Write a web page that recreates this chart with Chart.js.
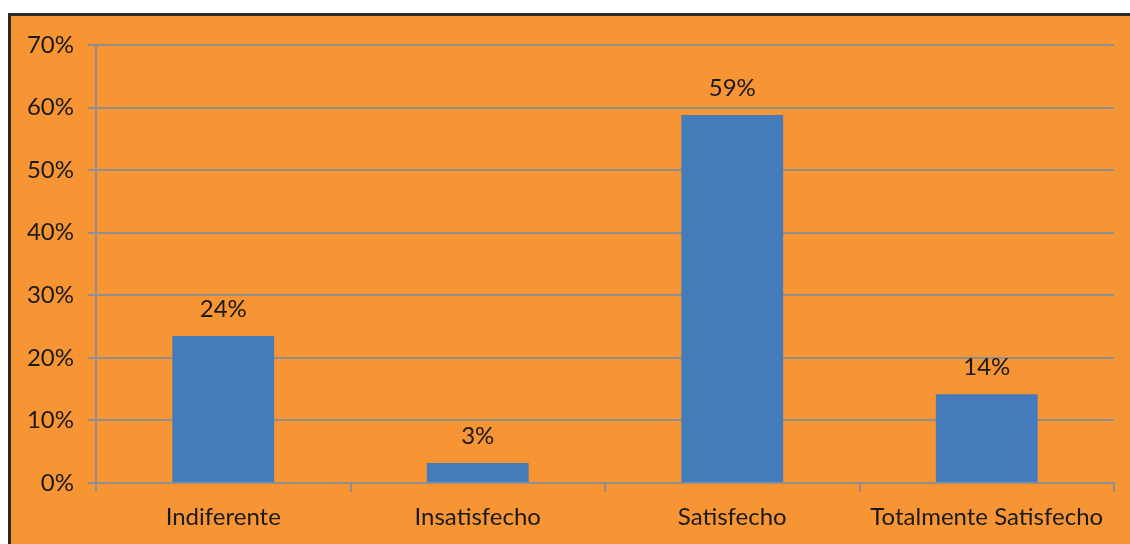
<!DOCTYPE html>
<html>
<head>
<meta charset="utf-8">
<script src="https://cdn.jsdelivr.net/npm/chart.js@4/dist/chart.umd.min.js"></script>
<style>
  html, body { margin: 0; padding: 0; background: #fff; }
  #frame {
    position: absolute; left: 8px; top: 13px; width: 1122px; height: 531px;
    border-top: 3px solid #2a2a2a; border-left: 3px solid #2a2a2a;
    box-sizing: border-box; background: #f79433;
  }
  #wrap { position: absolute; left: 0; top: 0; width: 1119px; height: 528px; }
</style>
</head>
<body>
<div id="frame"><div id="wrap"><canvas id="grafico"></canvas></div></div>
<script>
// datos
const categorias = ["Indiferente", "Insatisfecho", "Satisfecho", "Totalmente Satisfecho"];
const valores = [23.5, 3.2, 58.8, 14.2];
const etiquetas = ["24%", "3%", "59%", "14%"];
const ticksY = [0, 10, 20, 30, 40, 50, 60, 70];

const fuente = "Lato, 'Open Sans', sans-serif";
const gris = "#8e8e8e";

// etiquetas encima de cada barra
const etiquetasBarras = {
  id: "etiquetasBarras",
  afterDatasetsDraw(chart) {
    const ctx = chart.ctx;
    const meta = chart.getDatasetMeta(0);
    ctx.save();
    ctx.font = "24px " + fuente;
    ctx.fillStyle = "#1a1a1a";
    ctx.textAlign = "center";
    ctx.textBaseline = "middle";
    meta.data.forEach((bar, i) => {
      ctx.fillText(etiquetas[i], bar.x, bar.y - 27);
    });
    ctx.restore();
  }
};

new Chart(document.getElementById("grafico"), {
  type: "bar",
  data: {
    labels: categorias,
    datasets: [{
      data: valores,
      backgroundColor: "#437bbb",
      borderWidth: 0,
      categoryPercentage: 0.8,
      barPercentage: 0.5
    }]
  },
  options: {
    responsive: true,
    maintainAspectRatio: false,
    animation: false,
    layout: { padding: { top: 29, right: 16, left: 0, bottom: 0 } },
    plugins: { legend: { display: false }, tooltip: { enabled: false } },
    scales: {
      x: {
        grid: { offset: true, drawOnChartArea: false, drawTicks: true, tickLength: 9, color: gris, lineWidth: 2 },
        border: { color: gris, width: 2 },
        ticks: { font: { family: fuente, size: 24 }, color: "#1a1a1a", padding: 11, maxRotation: 0 },
        afterFit(s) { s.height = 61; }
      },
      y: {
        min: 0,
        max: 70,
        afterBuildTicks(s) { s.ticks = ticksY.map(v => ({ value: v })); },
        grid: { color: gris, tickLength: 8, lineWidth: 2 },
        border: { color: gris, width: 2 },
        ticks: {
          font: { family: fuente, size: 24 },
          color: "#1a1a1a",
          padding: 14,
          callback: v => v + "%"
        },
        afterFit(s) { s.width = 85; }
      }
    }
  },
  plugins: [etiquetasBarras]
});
</script>
</body>
</html>
